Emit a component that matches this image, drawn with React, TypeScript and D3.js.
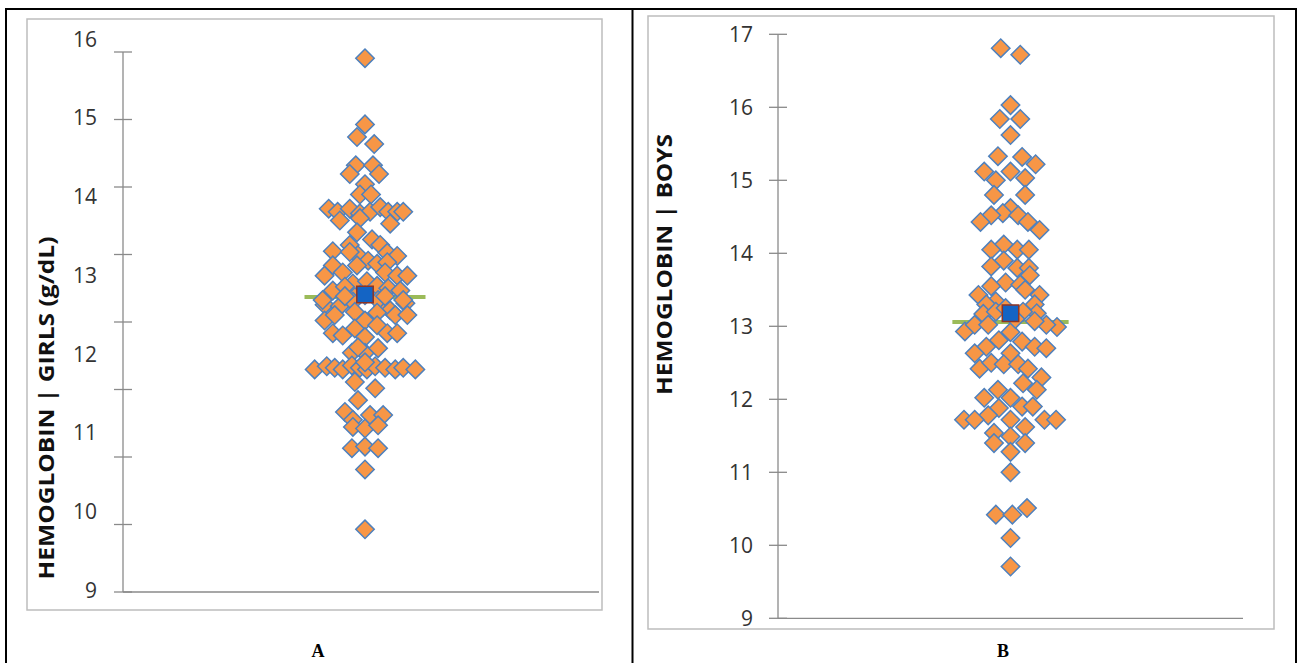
import React from 'react';
import * as d3 from 'd3';

// ---------- data ----------
const girlsHb = [
  15.75, 14.91, 14.75, 14.66, 14.39, 14.39, 14.28, 14.28, 14.15, 14.02, 14.02,
  13.84, 13.8, 13.84, 13.78, 13.8, 13.86, 13.8, 13.8, 13.8, 13.69, 13.72, 13.65, 13.54, 13.45, 13.38, 13.38, 13.3, 13.28, 13.25, 13.24, 13.18, 13.29, 13.12, 13.14, 13.12, 13.16,
  12.99, 13.03, 13.03, 12.99, 12.99, 12.89, 12.92, 12.8, 12.85, 12.86, 12.83, 12.8, 12.72,
  12.62, 12.6, 12.6, 12.64, 12.55, 12.68, 12.66, 12.68, 12.68,
  12.42, 12.49, 12.49, 12.49, 12.53, 12.52, 12.42, 12.36, 12.32, 12.26, 12.23, 12.26, 12.26, 12.21,
  12.01, 12.01, 12.07, 12.08,
  11.8, 11.84, 11.82, 11.8, 11.85, 11.82, 11.8, 11.84, 11.82, 11.8, 11.82, 11.8, 11.89,
  11.64, 11.56, 11.41, 11.26, 11.22, 11.22, 11.16, 11.07, 11.05, 11.09, 10.8, 10.82, 10.8, 10.53, 9.77,
  12.74, 12.73, 12.73,
];
const girlsJitter = [
  0, 0, -0.033, 0.038, -0.038, 0.033, -0.063, 0.058, 0, -0.021, 0.025,
  -0.15, -0.113, -0.063, -0.021, 0.021, 0.063, 0.096, 0.133, 0.158, -0.104, -0.021, 0.104, -0.033, 0.029, 0.063, -0.063, -0.133, 0.092, -0.029, 0.133, 0.013, -0.063, -0.033, 0.05, -0.133, 0.092,
  -0.167, -0.092, 0.083, 0.133, 0.175, -0.05, 0.008, -0.133, -0.083, 0.05, 0.096, 0.146, -0.042,
  -0.167, -0.104, 0.075, 0.167, 0.104, -0.175, -0.05, 0.054, 0.158,
  -0.167, -0.125, 0.125, 0.175, -0.042, 0.05, 0, 0.05, -0.042, -0.133, -0.092, 0.092, 0.133, 0,
  -0.054, 0, 0.054, -0.029,
  -0.208, -0.158, -0.125, -0.092, -0.054, -0.021, 0.008, 0.042, 0.083, 0.125, 0.158, 0.208, 0,
  -0.042, 0.042, -0.029, -0.083, 0.021, 0.075, -0.05, -0.05, 0, 0.054, -0.054, 0, 0.054, 0, 0,
  0, -0.083, 0.083,
];
const boysHb = [
  16.81, 16.72, 16.03, 15.84, 15.84, 15.62, 15.33, 15.32, 15.22, 15.12, 15.12, 15.0, 15.03, 14.8, 14.8, 14.62, 14.55, 14.52, 14.52, 14.43, 14.43, 14.32, 14.12, 14.05, 14.05, 14.05, 13.9, 13.82, 13.8, 13.8, 13.7, 13.6, 13.57, 13.55, 13.43, 13.43, 13.5, 13.34, 13.3, 13.3, 13.17, 13.18, 13.2, 13.2,
  12.93, 13.02, 13.02, 12.99, 13.02, 13.07, 12.92, 12.81, 12.79, 12.72, 12.7, 12.72, 12.63, 12.63, 12.42, 12.5, 12.48, 12.48, 12.42, 12.3, 12.22, 12.13, 12.02, 12.13, 12.02, 11.9, 11.9, 11.88, 11.78, 11.72, 11.72, 11.72, 11.72, 11.72, 11.62, 11.54, 11.49, 11.4, 11.4, 11.28, 11.0, 10.42, 10.42, 10.51, 10.1, 9.71, 13.25, 13.1,
];
const boysJitter = [
  -0.042, 0.042, 0, -0.046, 0.042, 0, -0.054, 0.05, 0.108, -0.113, 0, -0.063, 0.063, -0.071, 0.063, 0, -0.033, 0.033, -0.083, -0.129, 0.075, 0.125, -0.029, -0.083, 0.029, 0.079, -0.029, -0.083, 0.029, 0.079, 0.083, -0.021, 0.042, -0.083, -0.138, 0.125, 0.063, -0.063, -0.104, 0.104, -0.117, 0.113, -0.063, 0.054,
  -0.196, -0.154, -0.096, 0.2, 0.154, 0.104, 0, -0.05, 0.05, 0.104, 0.154, -0.104, -0.154, 0, -0.133, -0.083, -0.029, 0.033, 0.075, 0.133, 0.054, 0.113, -0.113, -0.054, 0, 0.05, 0.096, -0.05, -0.096, -0.2, -0.154, 0.146, 0.196, 0, 0.063, -0.071, 0, -0.071, 0.063, 0, 0, -0.063, 0.008, 0.071, 0, 0, -0.021, 0.021,
];
const girlsTickLabels = [16, 15, 14, 13, 12, 11, 10, 9];
const boysTickLabels = [17, 16, 15, 14, 13, 12, 11, 10, 9];
const girlsTickMarkCount = 9; // the girls axis shows 9 evenly spaced tick marks
const girlsMedian = 12.72;
const girlsMean = 12.75;
const boysMedian = 13.06;
const boysMean = 13.18;
const girlsTitle = 'HEMOGLOBIN | GIRLS (g/dL)';
const boysTitle = 'HEMOGLOBIN | BOYS';
const panelLetters = ['A', 'B'];

// ---------- styling ----------
const ORANGE = '#F79646';
const DIAMOND_STROKE = '#4F81BD';
const GREEN = '#9BBB59';
const BLUE = '#1464C4';
const BLUE_STROKE = '#8E3524';
const AXIS = '#8A8A8A';
const BOX = '#BDBDBD';
const TEXT = '#333333';

type PanelProps = {
  values: number[];
  jitter: number[];
  labels: number[];
  labelRange: [number, number];
  yDomain: [number, number];
  tickRange: [number, number];
  tickCount: number;
  xRange: [number, number];
  axisEnd: number;
  labelRight: number;
  box: { x0: number; y0: number; x1: number; y1: number };
  title: string;
  titleX: number;
  titleY: number;
  titleLen: number;
  median: number;
  mean: number;
};

const diamond = d3.symbol().type(d3.symbolSquare).size(170)();
const meanSquare = d3.symbol().type(d3.symbolSquare).size(270)();

function Panel(p: PanelProps) {
  const y = d3.scaleLinear().domain(p.yDomain).range(p.labelRange);
  const x = d3.scaleLinear().domain([-1, 1]).range(p.xRange);
  const tickY = d3.scaleLinear().domain([0, p.tickCount - 1]).range(p.tickRange);
  const ticks = d3.range(p.tickCount);
  const pts = p.values.map((v, i) => ({ v, j: p.jitter[i] }));
  const yBottom = p.tickRange[0];
  const yTop = p.tickRange[1];
  const ax = p.xRange[0];
  return (
    <g>
      <rect x={p.box.x0} y={p.box.y0} width={p.box.x1 - p.box.x0} height={p.box.y1 - p.box.y0}
        fill="#fff" stroke={BOX} strokeWidth={1.5} />
      <line x1={ax} x2={ax} y1={yTop} y2={yBottom} stroke={AXIS} strokeWidth={1.3} />
      {ticks.map((t) => (
        <line key={t} x1={ax - 9} x2={ax + 9} y1={tickY(t)} y2={tickY(t)} stroke={AXIS} strokeWidth={1.3} />
      ))}
      <line x1={ax} x2={p.axisEnd} y1={yBottom} y2={yBottom} stroke={AXIS} strokeWidth={1.3} />
      {p.labels.map((l) => (
        <text key={l} x={p.labelRight} y={y(l)} textAnchor="end" dominantBaseline="central"
          fontFamily="'Open Sans', sans-serif" fontSize={21} fill={TEXT}>{l}</text>
      ))}
      <text transform={`translate(${p.titleX},${p.titleY}) rotate(-90)`} textAnchor="middle"
        dominantBaseline="central" fontFamily="'Open Sans', sans-serif" fontWeight={700}
        fontSize={21} fill="#111" textLength={p.titleLen} lengthAdjust="spacingAndGlyphs">{p.title}</text>
      <line x1={x(-0.25)} x2={x(0.25)} y1={y(p.median)} y2={y(p.median)} stroke={GREEN} strokeWidth={4} />
      {pts.map((d, i) => (
        <path key={i} d={diamond || ''} transform={`translate(${x(d.j)},${y(d.v)}) rotate(45)`}
          fill={ORANGE} stroke={DIAMOND_STROKE} strokeWidth={1.5} />
      ))}
      <path d={meanSquare || ''} transform={`translate(${x(0)},${y(p.mean)})`} fill={BLUE}
        stroke={BLUE_STROKE} strokeWidth={1.5} />
    </g>
  );
}

export default function App() {
  return (
    <svg width={1298} height={663} style={{ position: 'absolute', left: 0, top: 0, background: '#fff' }}>
      <rect x={0} y={0} width={1298} height={663} fill="#fff" />
      <Panel
        values={girlsHb}
        jitter={girlsJitter}
        labels={girlsTickLabels}
        yDomain={[9, 16]}
        labelRange={[590, 38.5]}
        tickRange={[592, 52]}
        tickCount={girlsTickMarkCount}
        xRange={[123, 607]}
        axisEnd={599}
        labelRight={97}
        box={{ x0: 27, y0: 19, x1: 602, y1: 610 }}
        title={girlsTitle}
        titleX={46}
        titleY={408}
        titleLen={343}
        median={girlsMedian}
        mean={girlsMean}
      />
      <Panel
        values={boysHb}
        jitter={boysJitter}
        labels={boysTickLabels}
        yDomain={[9, 17]}
        labelRange={[618.3, 34.3]}
        tickRange={[618.3, 34.3]}
        tickCount={boysTickLabels.length}
        xRange={[778, 1243]}
        axisEnd={1243}
        labelRight={753}
        box={{ x0: 648, y0: 16, x1: 1274, y1: 629 }}
        title={boysTitle}
        titleX={663.5}
        titleY={264.5}
        titleLen={261}
        median={boysMedian}
        mean={boysMean}
      />
      <line x1={6} x2={1297} y1={9} y2={9} stroke="#000" strokeWidth={2} />
      <line x1={6} x2={6} y1={8} y2={663} stroke="#000" strokeWidth={2} />
      <line x1={632.5} x2={632.5} y1={8} y2={663} stroke="#000" strokeWidth={2} />
      <line x1={1296} x2={1296} y1={8} y2={663} stroke="#000" strokeWidth={2} />
      <text x={318} y={651} textAnchor="middle" dominantBaseline="central" fontFamily="'Liberation Serif', serif"
        fontWeight={700} fontSize={18}>{panelLetters[0]}</text>
      <text x={1003} y={651} textAnchor="middle" dominantBaseline="central" fontFamily="'Liberation Serif', serif"
        fontWeight={700} fontSize={18}>{panelLetters[1]}</text>
    </svg>
  );
}
